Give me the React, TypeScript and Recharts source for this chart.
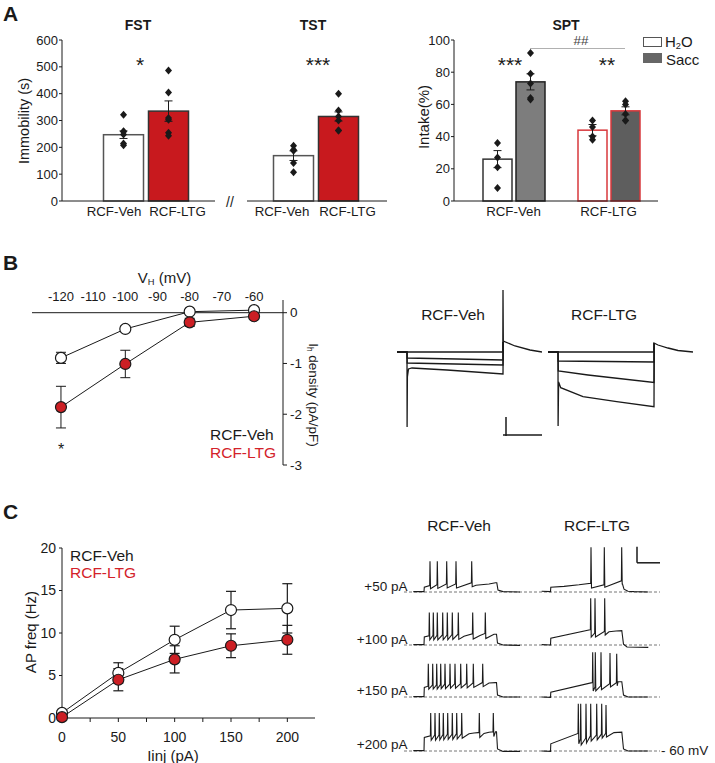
import React from "react";
import {
  Bar,
  BarChart,
  ErrorBar,
  Line,
  LineChart,
  ReferenceLine,
  XAxis,
  YAxis,
} from "recharts";

const FONT = '"Liberation Sans", Arial, Helvetica, sans-serif';
const INK = "#1a1a1a";
const RED = "#c8191e";
const RED_TXT = "#d3222a";

// ---- A: FST / TST / SPT
const groups = ["RCF-Veh", "RCF-LTG"];
const fstMean = [247, 335];
const fstSem = [14, 38];
const fstDots = [
  [321, 260, 258, 248, 214, 208],
  [486, 404, 309, 303, 254, 243],
];
const tstMean = [169, 315];
const tstSem = [18, 17];
const tstDots = [
  [206, 191, 187, 142, 107],
  [400, 337, 315, 300, 263, 263],
];
const immTicks = [0, 100, 200, 300, 400, 500, 600];

const sptH2O = [26, 44];
const sptH2OSem = [5.3, 3.5];
const sptH2ODots = [
  [36, 27, 21, 8],
  [50, 46, 40, 38],
];
const sptSacc = [74, 56];
const sptSaccSem = [5, 2.5];
const sptSaccDots = [
  [92, 79, 73, 64, 63],
  [62, 60, 54, 50, 50],
];
const intakeTicks = [0, 20, 40, 60, 80, 100];

// ---- B: Ih I-V
const ivV = [-120, -100, -80, -60];
const ivTicks = [-120, -110, -100, -90, -80, -70, -60];
const ivVeh = [-0.89, -0.32, 0.02, 0.05];
const ivVehSem = [0.11, 0.06, 0.03, 0.02];
const ivLtg = [-1.86, -1.01, -0.19, -0.07];
const ivLtgSem = [0.41, 0.27, 0.08, 0.03];

// B current traces: [ms, pA]
const vehCurrents = [
  [[0, 0], [1058, 0], [1060, 620], [1063, 110], [1180, 60], [1330, 20], [1450, 0]],
  [[0, 0], [100, 0], [102, -60], [600, -70], [1060, -80], [1062, 100]],
  [[0, 0], [100, 0], [102, -110], [1060, -130], [1062, 100]],
  [[0, 0], [100, 0], [101, -750], [104, -250], [115, -170], [150, -160], [500, -180], [1060, -220], [1062, 100]],
];
const ltgCurrents = [
  [[0, 0], [1058, 0], [1060, 90], [1100, 70], [1200, 40], [1300, 15], [1450, 0]],
  [[0, 0], [100, 0], [102, -90], [1060, -100], [1062, 90]],
  [[0, 0], [100, 0], [103, -190], [400, -230], [1060, -305], [1062, 90]],
  [[0, 0], [100, 0], [101, -740], [106, -300], [127, -357], [350, -447], [687, -497], [1060, -547], [1062, 90]],
];

// ---- C: firing
const injI = [0, 50, 100, 150, 200];
const injTicks = [0, 25, 50, 75, 100, 125, 150, 175, 200];
const apVeh = [0.6, 5.3, 9.2, 12.7, 12.9];
const apVehSem = [0, 1.2, 1.6, 2.2, 2.9];
const apLtg = [0.1, 4.5, 6.9, 8.5, 9.2];
const apLtgSem = [0, 1.3, 1.6, 1.4, 1.7];

const stepLabels = ["+50 pA", "+100 pA", "+150 pA", "+200 pA"];
// voltage traces: points [ms, mV] and spikes [ms, pre, peak, trough]
const vehVPts = [
  [[93, -59], [200, -59], [203, -48], [720, -43], [850, -40], [915, -37], [928, -37], [940, -55], [990, -59], [1160, -60]],
  [[93, -59], [200, -59], [203, -40], [600, -38], [760, -36], [900, -33], [925, -33], [935, -55], [990, -60], [1160, -61]],
  [[93, -59], [200, -59], [203, -36], [850, -25], [915, -24], [925, -24], [935, -55], [990, -60], [1160, -60]],
  [[93, -59], [200, -59], [203, -26], [650, -17], [700, -15], [740, -14], [800, -16], [850, -13], [915, -12], [925, -12], [935, -55], [990, -61], [1160, -61]],
];
const vehVSpikes = [
  [[260, -44, 17, -52], [333, -42, 17, -51], [427, -40, 17, -50], [520, -40, 17, -50], [677, -37, 17, -47]],
  [[253, -37, 21, -47], [293, -36, 21, -47], [333, -36, 21, -47], [387, -35, 21, -47], [433, -35, 21, -47], [483, -34, 21, -46], [543, -33, 21, -46], [687, -32, 21, -45], [813, -31, 21, -44]],
  [[243, -33, 23, -40], [287, -30, 23, -40], [327, -30, 23, -40], [367, -29, 23, -39], [410, -28, 23, -39], [460, -28, 23, -38], [510, -27, 23, -38], [567, -27, 23, -37], [627, -26, 23, -37], [693, -25, 23, -36], [787, -24, 23, -34]],
  [[267, -22, 35, -33], [310, -20, 35, -33], [353, -20, 35, -32], [393, -19, 35, -32], [437, -18, 35, -31], [483, -18, 35, -31], [527, -17, 35, -30], [577, -17, 35, -28], [753, -14, 35, -26], [893, -12, 35, -24]],
];
const ltgVPts = [
  [[1377, -58], [1465, -59], [1468, -48], [1600, -46], [1750, -42], [2185, -40], [2200, -53], [2240, -58], [2300, -59], [2443, -60]],
  [[1377, -59], [1465, -60], [1468, -43], [1860, -22], [2050, -27], [2120, -25], [2178, -24], [2195, -58], [2230, -65], [2443, -66]],
  [[1377, -60], [1465, -61], [1468, -48], [1880, -24], [2140, -22], [2178, -22], [2195, -55], [2240, -60], [2443, -60]],
  [[1377, -60], [1465, -61], [1468, -42], [1740, -16], [2100, -14], [2178, -13], [2195, -55], [2240, -60], [2443, -60]],
];
const ltgVSpikes = [
  [[1870, -38, 52, -50], [2003, -42, 52, -48], [2177, -32, 52, -40]],
  [[1867, -21, 57, -40], [1910, -30, 57, -40], [2007, -26, 57, -35]],
  [[1887, -24, 52, -45], [1913, -35, 52, -45], [1970, -32, 52, -42], [2060, -27, 50, -35], [2127, -24, 48, -32]],
  [[1743, -16, 58, -42], [1767, -30, 58, -45], [1820, -28, 58, -40], [1867, -22, 58, -35], [1927, -20, 58, -32], [1977, -18, 58, -28], [2020, -16, 55, -25]],
];
const rowBase = [592.3, 645, 696.7, 750.7];

function buildTrace(pts: number[][], spikes: number[][]) {
  const all = pts.map((p) => [p[0], p[1]]);
  spikes.forEach(([t, pre, peak, ahp]) => {
    all.push([t - 3, pre], [t, peak], [t + 5, ahp]);
  });
  return all.sort((a, b) => a[0] - b[0]).map(([t, v]) => ({ t, v }));
}

function Txt({ x, y, size = 13, color = INK, weight = 400, align = "center", rotate = 0, children }: any) {
  const tx = align === "center" ? "-50%" : align === "right" ? "-100%" : "0";
  return (
    <div
      style={{
        position: "absolute",
        left: x,
        top: y,
        transform: `translate(${tx}, -50%) rotate(${rotate}deg)`,
        fontSize: size,
        color,
        fontWeight: weight,
        whiteSpace: "nowrap",
        lineHeight: 1,
      }}
    >
      {children}
    </div>
  );
}

const sub = { fontSize: "0.62em", verticalAlign: "-0.25em", lineHeight: 0 };

function DotBar(props: any) {
  const { x, y, width, height, fill, stroke, v, dots } = props;
  const base = y + height;
  const k = v ? height / v : 0;
  const cx = x + width / 2;
  return (
    <g>
      <rect x={x} y={y} width={width} height={height} fill={fill} stroke={stroke} strokeWidth={1.5} />
      {dots.map((d: number, i: number) => {
        const cy = base - d * k;
        return (
          <polygon
            key={i}
            points={`${cx},${cy - 4} ${cx + 3.5},${cy} ${cx},${cy + 4} ${cx - 3.5},${cy}`}
            fill={INK}
          />
        );
      })}
    </g>
  );
}

const catTick = (shift: number[]) => (p: any) => (
  <text x={p.x + shift[p.index]} y={p.y} dy="0.71em" textAnchor="middle" fontSize={13.3} fill={INK}>
    {p.payload.value}
  </text>
);

function TestBars({ left, width, means, sems, dots, padL, padR, shift, showY }: any) {
  const data = groups.map((g, i) => ({ g, v: means[i], e: sems[i], dots: dots[i] }));
  const fills = ["#ffffff", RED];
  const strokes = ["#555555", "#333333"];
  return (
    <div style={{ position: "absolute", left, top: 30 }}>
      <BarChart width={width} height={201} data={data} margin={{ top: 10, right: 0, bottom: 0, left: 0 }} barSize={40}>
        <XAxis
          dataKey="g"
          padding={{ left: padL, right: padR }}
          height={30}
          interval={0}
          tickLine={false}
          tickSize={6}
          tickMargin={0}
          axisLine={{ stroke: INK }}
          tick={catTick(shift)}
        />
        <YAxis
          hide={!showY}
          width={40}
          domain={[0, 600]}
          ticks={immTicks}
          interval={0}
          tickSize={3}
          tickMargin={1}
          axisLine={{ stroke: INK }}
          tickLine={{ stroke: INK }}
          tick={{ fontSize: 13, fill: INK }}
        />
        <Bar
          dataKey="v"
          isAnimationActive={false}
          shape={(p: any) => (
            <DotBar {...p} v={p.payload.v} dots={p.payload.dots} fill={fills[p.index]} stroke={strokes[p.index]} />
          )}
        >
          <ErrorBar dataKey="e" width={4} stroke={INK} strokeWidth={1} />
        </Bar>
      </BarChart>
    </div>
  );
}

function SptBars() {
  const data = groups.map((g, i) => ({
    g,
    h2o: sptH2O[i],
    h2oE: sptH2OSem[i],
    h2oDots: sptH2ODots[i],
    sacc: sptSacc[i],
    saccE: sptSaccSem[i],
    saccDots: sptSaccDots[i],
  }));
  const h2oStroke = ["#333333", "#d8383c"];
  const saccFill = ["#7d7d7d", "#5e5e5e"];
  const saccStroke = ["#222222", "#d8383c"];
  return (
    <div style={{ position: "absolute", left: 414, top: 30 }}>
      <BarChart width={244} height={201} data={data} margin={{ top: 10, right: 0, bottom: 0, left: 0 }} barSize={29} barGap={4}>
        <XAxis
          dataKey="g"
          padding={{ left: 12, right: 2 }}
          height={30}
          interval={0}
          tickLine={false}
          tickSize={6}
          tickMargin={0}
          axisLine={{ stroke: INK }}
          tick={catTick([0, 0])}
        />
        <YAxis
          width={40}
          domain={[0, 100]}
          ticks={intakeTicks}
          interval={0}
          tickSize={3}
          tickMargin={1}
          axisLine={{ stroke: INK }}
          tickLine={{ stroke: INK }}
          tick={{ fontSize: 13, fill: INK }}
        />
        <Bar
          dataKey="h2o"
          isAnimationActive={false}
          shape={(p: any) => (
            <DotBar {...p} v={p.payload.h2o} dots={p.payload.h2oDots} fill="#ffffff" stroke={h2oStroke[p.index]} />
          )}
        >
          <ErrorBar dataKey="h2oE" width={4} stroke={INK} strokeWidth={1} />
        </Bar>
        <Bar
          dataKey="sacc"
          isAnimationActive={false}
          shape={(p: any) => (
            <DotBar {...p} v={p.payload.sacc} dots={p.payload.saccDots} fill={saccFill[p.index]} stroke={saccStroke[p.index]} />
          )}
        >
          <ErrorBar dataKey="saccE" width={4} stroke={INK} strokeWidth={1} />
        </Bar>
      </BarChart>
    </div>
  );
}

const circleDot = (fill: string) => (p: any) => (
  <circle key={p.index} cx={p.cx} cy={p.cy} r={5.5} fill={fill} stroke={INK} strokeWidth={1.2} />
);

function IVChart() {
  const data = ivV.map((mv, i) => ({
    mv,
    veh: ivVeh[i],
    vehE: ivVehSem[i],
    ltg: ivLtg[i],
    ltgE: ivLtgSem[i],
  }));
  return (
    <div style={{ position: "absolute", left: 32, top: 280 }}>
      <LineChart width={291} height={197} data={data} margin={{ top: 0, right: 0, bottom: 12, left: 0 }}>
        <XAxis
          type="number"
          dataKey="mv"
          orientation="top"
          domain={[-129, -51]}
          ticks={ivTicks}
          interval={0}
          height={20}
          axisLine={false}
          tickLine={false}
          tickSize={0}
          tickMargin={-1}
          tick={{ fontSize: 13, fill: INK }}
        />
        <YAxis
          orientation="right"
          width={40}
          domain={[-3, 0.25]}
          ticks={[-3, -2, -1, 0]}
          interval={0}
          tickSize={4}
          tickMargin={3}
          axisLine={{ stroke: INK }}
          tickLine={{ stroke: INK }}
          tick={{ fontSize: 13.5, fill: INK }}
        />
        <ReferenceLine y={0} stroke={INK} />
        <Line dataKey="veh" stroke={INK} strokeWidth={1} dot={circleDot("#ffffff")} isAnimationActive={false}>
          <ErrorBar dataKey="vehE" direction="y" width={5} stroke={INK} strokeWidth={1} />
        </Line>
        <Line dataKey="ltg" stroke={INK} strokeWidth={1} dot={circleDot("#cc1f24")} isAnimationActive={false}>
          <ErrorBar dataKey="ltgE" direction="y" width={5} stroke={INK} strokeWidth={1} />
        </Line>
      </LineChart>
    </div>
  );
}

function CurrentTraces({ left, traces, scaleBar }: any) {
  return (
    <div style={{ position: "absolute", left, top: 282 }}>
      <LineChart width={145} height={160} margin={{ top: 0, right: 0, bottom: 0, left: 0 }}>
        <XAxis type="number" dataKey="t" domain={[0, 1450]} hide allowDataOverflow />
        <YAxis type="number" domain={[-900, 700]} hide allowDataOverflow />
        {traces.map((tr: number[][], i: number) => (
          <Line
            key={i}
            data={tr.map(([t, v]) => ({ t, v }))}
            dataKey="v"
            type="linear"
            stroke={INK}
            strokeWidth={1.3}
            dot={false}
            isAnimationActive={false}
          />
        ))}
        {scaleBar && (
          <ReferenceLine segment={[{ x: 1060, y: -830 }, { x: 1450, y: -830 }]} stroke={INK} strokeWidth={1.5} />
        )}
        {scaleBar && (
          <ReferenceLine segment={[{ x: 1090, y: -650 }, { x: 1090, y: -840 }]} stroke={INK} strokeWidth={1.5} />
        )}
      </LineChart>
    </div>
  );
}

function APChart() {
  const data = injI.map((i, k) => ({
    i,
    veh: apVeh[k],
    vehE: apVehSem[k],
    ltg: apLtg[k],
    ltgE: apLtgSem[k],
  }));
  return (
    <div style={{ position: "absolute", left: 21.5, top: 538 }}>
      <LineChart width={293.5} height={220} data={data} margin={{ top: 10, right: 0, bottom: 0, left: 0 }}>
        <XAxis
          type="number"
          dataKey="i"
          domain={[0, 225]}
          ticks={injTicks}
          interval={0}
          height={40}
          tickSize={4}
          tickMargin={10}
          tickFormatter={(v: number) => (v % 50 === 0 ? String(v) : "")}
          axisLine={{ stroke: INK }}
          tickLine={{ stroke: INK }}
          tick={{ fontSize: 14, fill: INK }}
        />
        <YAxis
          width={40}
          domain={[0, 20]}
          ticks={[0, 5, 10, 15, 20]}
          interval={0}
          tickSize={3}
          tickMargin={3}
          axisLine={{ stroke: INK }}
          tickLine={{ stroke: INK }}
          tick={{ fontSize: 14, fill: INK }}
        />
        <Line dataKey="veh" stroke={INK} strokeWidth={1} dot={circleDot("#ffffff")} isAnimationActive={false}>
          <ErrorBar dataKey="vehE" direction="y" width={5} stroke={INK} strokeWidth={1.2} />
        </Line>
        <Line dataKey="ltg" stroke={INK} strokeWidth={1} dot={circleDot("#cc1f24")} isAnimationActive={false}>
          <ErrorBar dataKey="ltgE" direction="y" width={5} stroke={INK} strokeWidth={1.2} />
        </Line>
      </LineChart>
    </div>
  );
}

function VoltageRow({ row }: any) {
  const veh = buildTrace(vehVPts[row], vehVSpikes[row]);
  const ltg = buildTrace(ltgVPts[row], ltgVSpikes[row]);
  return (
    <div style={{ position: "absolute", left: 404, top: rowBase[row] - 50 }}>
      <LineChart width={256} height={56} margin={{ top: 0, right: 0, bottom: 0, left: 0 }}>
        <XAxis type="number" dataKey="t" domain={[0, 2560]} hide allowDataOverflow />
        <YAxis type="number" domain={[-75, 65]} hide allowDataOverflow />
        <ReferenceLine y={-60} stroke="#777777" strokeDasharray="3 2" />
        <Line data={veh} dataKey="v" type="linear" stroke={INK} strokeWidth={1.1} dot={false} isAnimationActive={false} />
        <Line data={ltg} dataKey="v" type="linear" stroke={INK} strokeWidth={1.1} dot={false} isAnimationActive={false} />
        {row === 0 && (
          <ReferenceLine segment={[{ x: 2330, y: 13 }, { x: 2560, y: 13 }]} stroke={INK} strokeWidth={1.5} />
        )}
        {row === 0 && (
          <ReferenceLine segment={[{ x: 2330, y: 13 }, { x: 2330, y: 53 }]} stroke={INK} strokeWidth={1.5} />
        )}
      </LineChart>
    </div>
  );
}

export default function App() {
  return (
    <div
      style={{
        position: "absolute",
        left: 0,
        top: 0,
        width: 715,
        height: 763,
        background: "#ffffff",
        fontFamily: FONT,
        color: INK,
        overflow: "hidden",
      }}
    >
      {/* Panel A */}
      <Txt x={3} y={13} size={21} weight={700} align="left">A</Txt>
      <Txt x={138} y={25} size={14} weight={700}>FST</Txt>
      <Txt x={313} y={25} size={14} weight={700}>TST</Txt>
      <Txt x={566} y={25} size={14} weight={700}>SPT</Txt>
      <Txt x={23.5} y={121} size={14.5} rotate={-90}>Immobility (s)</Txt>
      <Txt x={423} y={117} size={15} rotate={-90}>Intake(%)</Txt>
      <TestBars left={22} width={193} means={fstMean} sems={fstSem} dots={fstDots} padL={38.5} padR={24.5} shift={[-9, 9.5]} showY />
      <TestBars left={247} width={140} means={tstMean} sems={tstSem} dots={tstDots} padL={23.5} padR={26.5} shift={[-11, 9.5]} showY={false} />
      <SptBars />
      <Txt x={230} y={202} size={14}>//</Txt>
      <Txt x={140} y={64} size={21}>*</Txt>
      <Txt x={318} y={64} size={21}>***</Txt>
      <Txt x={510} y={64} size={21}>***</Txt>
      <Txt x={607} y={64} size={21}>**</Txt>
      <Txt x={581} y={41} size={13.5} color="#444">##</Txt>
      <div style={{ position: "absolute", left: 530, top: 48, width: 95, height: 0, borderTop: "1px solid #b0b0b0" }} />
      <div style={{ position: "absolute", left: 643, top: 37, width: 17, height: 8, border: "1px solid #555", background: "#fff" }} />
      <div style={{ position: "absolute", left: 643, top: 53, width: 19, height: 10, background: "#666" }} />
      <Txt x={665} y={41} size={15} align="left">
        H<span style={sub}>2</span>O
      </Txt>
      <Txt x={666} y={59} size={15} align="left">Sacc</Txt>

      {/* Panel B */}
      <Txt x={3} y={262} size={21} weight={700} align="left">B</Txt>
      <Txt x={164.5} y={277} size={15}>
        V<span style={sub}>H</span> (mV)
      </Txt>
      <IVChart />
      <Txt x={313} y={395} size={13.5} rotate={90}>
        I<span style={sub}>h</span> density (pA/pF)
      </Txt>
      <Txt x={210} y={435} size={15.5} align="left">RCF-Veh</Txt>
      <Txt x={210} y={453} size={15.5} align="left" color={RED_TXT}>RCF-LTG</Txt>
      <Txt x={61} y={450} size={16}>*</Txt>
      <Txt x={453} y={315} size={15.5}>RCF-Veh</Txt>
      <Txt x={604} y={315} size={15.5}>RCF-LTG</Txt>
      <CurrentTraces left={397} traces={vehCurrents} scaleBar />
      <CurrentTraces left={548} traces={ltgCurrents} scaleBar={false} />

      {/* Panel C */}
      <Txt x={3} y={511} size={21} weight={700} align="left">C</Txt>
      <APChart />
      <Txt x={29.5} y={632} size={15} rotate={-90}>AP freq (Hz)</Txt>
      <Txt x={173} y={755} size={15}>Iinj (pA)</Txt>
      <Txt x={70} y={556} size={15.5} align="left">RCF-Veh</Txt>
      <Txt x={70} y={573} size={15.5} align="left" color={RED_TXT}>RCF-LTG</Txt>
      <Txt x={459} y={526} size={15.5}>RCF-Veh</Txt>
      <Txt x={597} y={526} size={15.5}>RCF-LTG</Txt>
      {stepLabels.map((s, i) => (
        <Txt key={s} x={407.5} y={rowBase[i] - 5.5} size={13.5} align="right">
          {s}
        </Txt>
      ))}
      {[0, 1, 2, 3].map((r) => (
        <VoltageRow key={r} row={r} />
      ))}
      <Txt x={661} y={751} size={13.5} align="left">- 60 mV</Txt>
    </div>
  );
}
